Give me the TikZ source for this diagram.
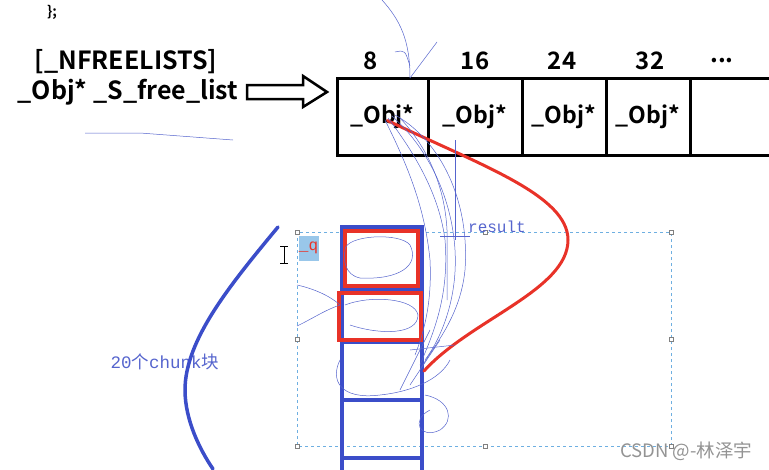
\documentclass[tikz,border=0pt]{standalone}
\usepackage{fontspec}
\setmainfont{Liberation Serif}
\setmonofont{Liberation Mono}
\newfontfamily\yh{Noto Sans CJK SC}[BoldFont={Noto Sans CJK SC Bold}]
\newfontfamily\cjk{Noto Sans CJK SC}
\usetikzlibrary{calc}
\definecolor{blkblue}{RGB}{59,77,201}
\definecolor{penred}{RGB}{232,50,40}
\definecolor{selblue}{RGB}{110,175,225}
\definecolor{penblue}{RGB}{85,100,205}
\tikzstyle{cell}=[draw, line width=3pt, minimum height=77pt, inner sep=0, font=\yh\bfseries\fontsize{23}{23}\selectfont]
\tikzstyle{hdr}=[inner sep=0, font=\yh\bfseries\fontsize{24}{24}\selectfont]
\tikzstyle{big}=[inner sep=0, font=\yh\bfseries\fontsize{25}{25}\selectfont]
\tikzstyle{blk}=[draw=blkblue, line width=4pt, minimum width=80pt, inner sep=0]
\tikzstyle{redbox}=[draw=penred, line width=3.5pt, inner sep=0]
\tikzstyle{scrib}=[draw=penblue, line width=0.5pt]
\tikzstyle{handle}=[draw=gray, fill=white, line width=0.4pt, minimum size=4pt, inner sep=0]
\tikzstyle{note}=[inner sep=0, text=penblue, font=\ttfamily\fontsize{16}{16}\selectfont]

\begin{document}
\begin{tikzpicture}[x=1pt, y=-1pt]
\useasboundingbox (0,0) rectangle (769,469);
\node at (52,12)[inner sep=0, font=\yh\bfseries\fontsize{14}{14}\selectfont](brace){\};};
\node at (126,62)[big](nfree){[\_NFREELISTS]};
\node at (128,92)[big](flist){\_Obj* \_S\_free\_list};
\draw[line width=2.5pt, line join=miter] (247,85) -- (303,85) -- (303,76) -- (327,92) -- (303,107) -- (303,99) -- (247,99) -- cycle;
\foreach \xc/\w/\i in {382.5/91/1, 475/94/2, 564/84/3, 648/84/4}
  {\node at (\xc,116.5)[cell, minimum width=\w pt](c\i){\_Obj*};}
\node at (735,116.5)[cell, minimum width=90pt](c5){};
\node at (371,61)[hdr](h1){8};
\node at (475,61)[hdr](h2){16};
\node at (562,61)[hdr](h3){24};
\node at (650,61)[hdr](h4){32};
\node at (722,61)[hdr](h5){...};
\draw[selblue, dashed, line width=0.8pt] (297,232) rectangle (671,446);
\foreach \hx/\hy in {297/232, 485/232, 671/232, 297/339, 671/339, 297/446, 485/446, 671/446}
  {\node at (\hx,\hy)[handle]{};}
\node at (382,258)[blk, minimum height=62pt](b1){};
\node at (382,315)[blk, minimum height=52pt](b2){};
\node at (382,371)[blk, minimum height=58pt](b3){};
\node at (382,429)[blk, minimum height=58pt](b4){};
\node at (382,480)[blk, minimum height=44pt](b5){};
\node at (381.5,258.5)[redbox, minimum width=73pt, minimum height=55pt](r1){};
\node at (380,316.5)[redbox, minimum width=82pt, minimum height=47pt](r2){};
\node at (308.5,248)[fill=selblue!70, text=penred, inner sep=0, minimum width=20pt, minimum height=25pt, font=\ttfamily\fontsize{16}{16}\selectfont](q){\_q};
\draw[line width=0.8pt] (284,246) -- (284,263) (280,246) -- (288,246) (280,263) -- (288,263);
\node at (497,227)[note](res){result};
\node at (165,362)[note, font=\ttfamily\fontsize{17.5}{17.5}\selectfont](chunk){20{\cjk 个}chunk{\cjk 块}};
\node at (686,451)[inner sep=0, text=gray!85, font=\cjk\fontsize{18.5}{18.5}\selectfont](csdn){CSDN @-林泽宇};
\draw[penred, line width=3pt, line cap=round] ($(c1.center)+(5,4)$) .. controls (480,165) and (568,195) .. (568,240) .. controls (568,290) and (470,320) .. (b3.east);
\draw[blkblue, line width=3.5pt, line cap=round] (278,227) .. controls (230,285) and (185,340) .. (185,390) .. controls (185,420) and (200,450) .. (213,469);
\draw[scrib] (85,133) -- (140,133) -- (233,140);
\draw[scrib] (382,0) .. controls (400,20) and (410,40) .. (410,78);
\draw[scrib] (437,42) -- (410,78);
\draw[scrib] (395,52) .. controls (405,50) .. (410,66);
\draw[scrib] (388,118) .. controls (420,160) and (440,200) .. (445,240) .. controls (450,300) and (430,340) .. (420,365);
\draw[scrib] (392,116) .. controls (430,150) and (452,200) .. (455,250) .. controls (458,300) and (440,340) .. (425,360);
\draw[scrib] (385,120) .. controls (410,170) and (425,210) .. (430,260) .. controls (432,300) and (425,330) .. (415,355);
\draw[scrib] (395,115) .. controls (440,140) and (470,200) .. (465,270) .. controls (460,320) and (430,350) .. (420,370);
\draw[scrib] (400,118) .. controls (430,150) and (445,190) .. (447,230) -- (447,300);
\draw[scrib] (455,140) -- (455,240) (440,236) -- (470,236);
\draw[scrib] (345,250) .. controls (345,235) and (400,232) .. (410,245) .. controls (420,265) and (400,280) .. (360,278) .. controls (345,275) and (343,260) .. (345,250);
\draw[scrib] (345,305) .. controls (370,295) and (415,298) .. (418,315) .. controls (418,335) and (380,335) .. (350,325);
\draw[scrib] (297,285) .. controls (320,290) and (335,300) .. (340,305) .. controls (325,310) and (310,320) .. (297,326);
\draw[scrib] (340,360) .. controls (330,380) and (340,400) .. (380,395) .. controls (410,392) and (440,380) .. (450,360);
\draw[scrib] (425,395) .. controls (450,400) and (455,420) .. (440,430) .. controls (420,440) and (410,420) .. (430,410);
\draw[scrib] (410,350) -- (455,345) (400,390) -- (430,330) (410,385) -- (440,340);
\end{tikzpicture}
\end{document}
